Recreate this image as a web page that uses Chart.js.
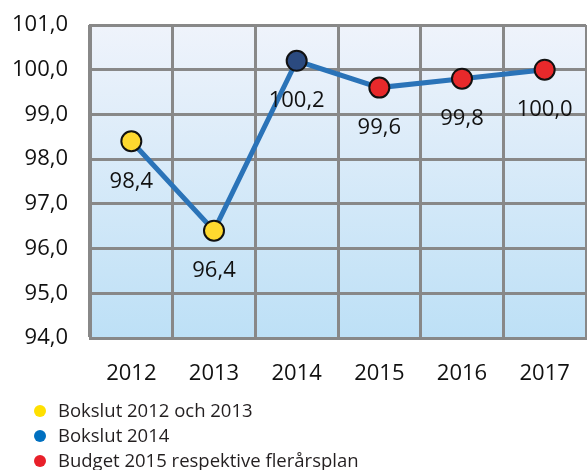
<!DOCTYPE html>
<html>
<head>
<meta charset="utf-8">
<script src="https://cdn.jsdelivr.net/npm/chart.js@4/dist/chart.umd.min.js"></script>
<style>
  html, body { margin: 0; padding: 0; background: #fff; }
  #wrap { position: relative; width: 587px; height: 470px; }
  #box { position: absolute; left: 0; top: 0; width: 587px; height: 400px; }
  .leg { position: absolute; left: 34px; font: 18.5px "Open Sans", sans-serif; color: #231f20; line-height: 20px; white-space: nowrap; }
  .leg i { display: inline-block; width: 12px; height: 12px; border-radius: 50%; margin-right: 12px; vertical-align: 0px; }
</style>
</head>
<body>
<div id="wrap">
  <div id="box"><canvas id="lineChart"></canvas></div>
  <div id="legend"></div>
</div>
<script>
// Data
const years = ['2012', '2013', '2014', '2015', '2016', '2017'];
const values = [98.4, 96.4, 100.2, 99.6, 99.8, 100.0];
const pointColors = ['#ffd92f', '#ffd92f', '#2b4a7f', '#e8292b', '#e8292b', '#e8292b'];
const legendLabels = ['Bokslut 2012 och 2013', 'Bokslut 2014', 'Budget 2015 respektive flerårsplan'];
const legendColors = ['#ffe000', '#0070c0', '#e8202a'];

const fmt = v => Number(v).toFixed(1).replace('.', ',');

// bakgrund i plotytan
const bgPlugin = {
    id: 'bg',
    beforeDraw(chart) {
        const { ctx, chartArea: a } = chart;
        const g = ctx.createLinearGradient(0, a.top, 0, a.bottom);
        g.addColorStop(0, '#eff3fb');
        g.addColorStop(1, '#bde0f6');
        ctx.save();
        ctx.fillStyle = g;
        ctx.fillRect(a.left, a.top, a.right - a.left, a.bottom - a.top);
        ctx.restore();
    }
};

// etiketter under punkterna
const labelPlugin = {
    id: 'vals',
    afterDatasetsDraw(chart) {
        const ctx = chart.ctx;
        const meta = chart.getDatasetMeta(0);
        ctx.save();
        ctx.font = '22px "Open Sans", sans-serif';
        ctx.fillStyle = '#111';
        ctx.textAlign = 'center';
        ctx.textBaseline = 'middle';
        meta.data.forEach((pt, i) => {
            ctx.fillText(fmt(values[i]), pt.x, pt.y + 40);
        });
        ctx.restore();
    }
};

const data = {
    labels: years,
    datasets: [{
        data: values,
        borderColor: '#2a73b8',
        borderWidth: 5,
        pointBackgroundColor: pointColors,
        pointBorderColor: '#111',
        pointBorderWidth: 2,
        pointRadius: 10,
        pointHoverRadius: 10,
        tension: 0,
        clip: false
    }]
};

const gridColor = '#888888';

const options = {
    responsive: false,
    animation: false,
    maintainAspectRatio: false,
    layout: {
        autoPadding: false,
        padding: { top: 25, right: 1, left: 0, bottom: 0 }
    },
    scales: {
        x: {
            offset: true,
            grid: { offset: true, color: gridColor, lineWidth: 3, drawTicks: false },
            border: { color: gridColor, width: 3 },
            ticks: { color: '#111', padding: 23, font: { family: 'Open Sans', size: 22 } },
            afterFit: s => { s.height = 62; s.paddingLeft = 0; s.paddingRight = 0; }
        },
        y: {
            min: 94,
            max: 101,
            grid: { color: gridColor, lineWidth: 3, drawTicks: false },
            border: { color: gridColor, width: 3 },
            ticks: {
                stepSize: 1,
                color: '#111',
                padding: 22,
                font: { family: 'Open Sans', size: 22 },
                callback: v => fmt(v)
            },
            afterFit: s => { s.width = 90; s.paddingTop = 0; s.paddingBottom = 0; }
        }
    },
    plugins: {
        legend: { display: false },
        tooltip: { enabled: false }
    }
};

const cv = document.getElementById('lineChart');
cv.width = 587;
cv.height = 400;
new Chart(cv, { type: 'line', data: data, options: options, plugins: [bgPlugin, labelPlugin] });

// förklaring
const leg = document.getElementById('legend');
legendLabels.forEach((t, i) => {
    const d = document.createElement('div');
    d.className = 'leg';
    d.style.top = (400 + i * 25) + 'px';
    d.innerHTML = '<i style="background:' + legendColors[i] + '"></i>' + t;
    leg.appendChild(d);
});
</script>
</body>
</html>
